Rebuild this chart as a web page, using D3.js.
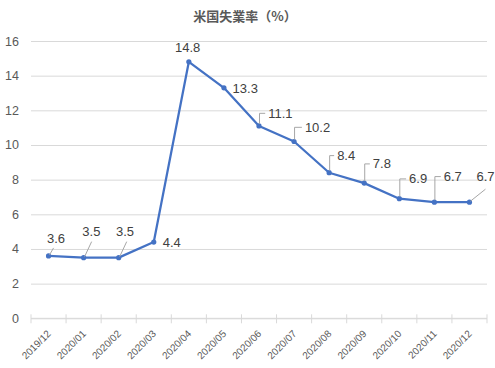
<!DOCTYPE html>
<html><head><meta charset="utf-8">
<script src="https://cdn.jsdelivr.net/npm/d3@7"></script>
<style>
html,body{margin:0;padding:0;background:#fff;}
svg{display:block;font-family:"Liberation Sans",Arial,sans-serif;}
</style></head>
<body>
<svg id="chart" width="495" height="368"></svg>
<script>
const title = "米国失業率（%）";
const categories = ["2019/12","2020/01","2020/02","2020/03","2020/04","2020/05","2020/06","2020/07","2020/08","2020/09","2020/10","2020/11","2020/12"];
const rates = [3.6,3.5,3.5,4.4,14.8,13.3,11.1,10.2,8.4,7.8,6.9,6.7,6.7];
const yTicks = [0,2,4,6,8,10,12,14,16];

// label layout (pixel offsets from each point): text left/baseline, leader style
const labelLayout = [
  {dx:-1.5, dy:-13,  leader:"diag", lx:5,  ly:-8},
  {dx:-1.3, dy:-21.6,leader:"diag", lx:8,  ly:-16},
  {dx:-2.7, dy:-21.6,leader:"diag", lx:8,  ly:-16},
  {dx:8.9,  dy:5.3,  leader:null},
  {dx:-13.9,dy:-10,  leader:null},
  {dx:8.7,  dy:4.9,  leader:null},
  {dx:9.2,  dy:-8.2, leader:"elbow"},
  {dx:10.8, dy:-9.8, leader:"elbow"},
  {dx:8.0,  dy:-12.7,leader:"elbow"},
  {dx:8.6,  dy:-14.8,leader:"elbow"},
  {dx:9.8,  dy:-15.4,leader:"elbow"},
  {dx:9.4,  dy:-21.2,leader:"elbow"},
  {dx:7.0,  dy:-21.2,leader:"diag", lx:16, ly:-13}
];

const svg = d3.select("#chart");
const mLeft = 31, mRight = 487, mTop = 41, mBottom = 318.3;

const x = d3.scaleBand().domain(categories).range([mLeft, mRight]).padding(0);
const y = d3.scaleLinear().domain([0, 16]).range([mBottom, mTop]);
const cx = c => x(c) + x.bandwidth() / 2;

// title
svg.append("text").attr("x", 245).attr("y", 21).attr("text-anchor", "middle")
  .attr("font-size", 13).attr("font-weight", "bold").attr("fill", "#595959")
  .attr("font-family", "'Noto Sans CJK JP', sans-serif").text(title);

// y axis gridlines
const yAxis = svg.append("g").attr("transform", `translate(${mLeft},0)`)
  .call(d3.axisLeft(y).tickValues(yTicks).tickSize(-(mRight - mLeft)).tickPadding(12).tickFormat(d3.format("d")));
yAxis.select(".domain").remove();
yAxis.selectAll(".tick line").attr("stroke", "#d9d9d9").attr("stroke-width", 1);
yAxis.selectAll(".tick text").attr("font-size", 12.5).attr("fill", "#595959")
  .attr("font-family", "'Liberation Sans', Arial, sans-serif");

// x axis
const boundaries = d3.range(categories.length + 1).map(i => mLeft + i * x.bandwidth());
const xg = svg.append("g");
xg.append("line").attr("x1", mLeft).attr("x2", mRight).attr("y1", y(0)).attr("y2", y(0))
  .attr("stroke", "#d9d9d9");
xg.selectAll("line.tk").data(boundaries).join("line").attr("class", "tk")
  .attr("x1", d => d).attr("x2", d => d).attr("y1", y(0) - 4).attr("y2", y(0) + 5)
  .attr("stroke", "#d9d9d9");
xg.selectAll("text").data(categories).join("text")
  .attr("transform", d => `translate(${cx(d) + 3},${y(0) + 16}) rotate(-45)`)
  .attr("text-anchor", "end").attr("font-size", 10).attr("fill", "#595959")
  .text(d => d);

// line
const line = d3.line().x((d, i) => cx(categories[i])).y(d => y(d));
svg.append("path").datum(rates).attr("d", line).attr("fill", "none")
  .attr("stroke", "#4472C4").attr("stroke-width", 2.25).attr("stroke-linejoin", "round");
svg.selectAll("circle.pt").data(rates).join("circle").attr("class", "pt")
  .attr("cx", (d, i) => cx(categories[i])).attr("cy", d => y(d)).attr("r", 2.6)
  .attr("fill", "#4472C4");

// leader lines & labels
const lg = svg.append("g");
rates.forEach((v, i) => {
  const px = cx(categories[i]), py = y(v), L = labelLayout[i];
  const tx = px + L.dx, ty = py + L.dy;
  if (L.leader === "diag") {
    lg.append("line").attr("x1", px + 1).attr("y1", py - 1).attr("x2", px + L.lx).attr("y2", py + L.ly)
      .attr("stroke", "#a6a6a6").attr("stroke-width", 1);
  } else if (L.leader === "elbow") {
    const hy = ty - 4.4;
    lg.append("path").attr("d", `M${px + 0.5},${py - 2}V${hy}H${tx - 3}`)
      .attr("fill", "none").attr("stroke", "#a6a6a6").attr("stroke-width", 1);
  }
  lg.append("text").attr("x", tx).attr("y", ty).attr("font-size", 13).attr("fill", "#404040")
    .text(v.toFixed(1));
});
</script>
</body></html>
